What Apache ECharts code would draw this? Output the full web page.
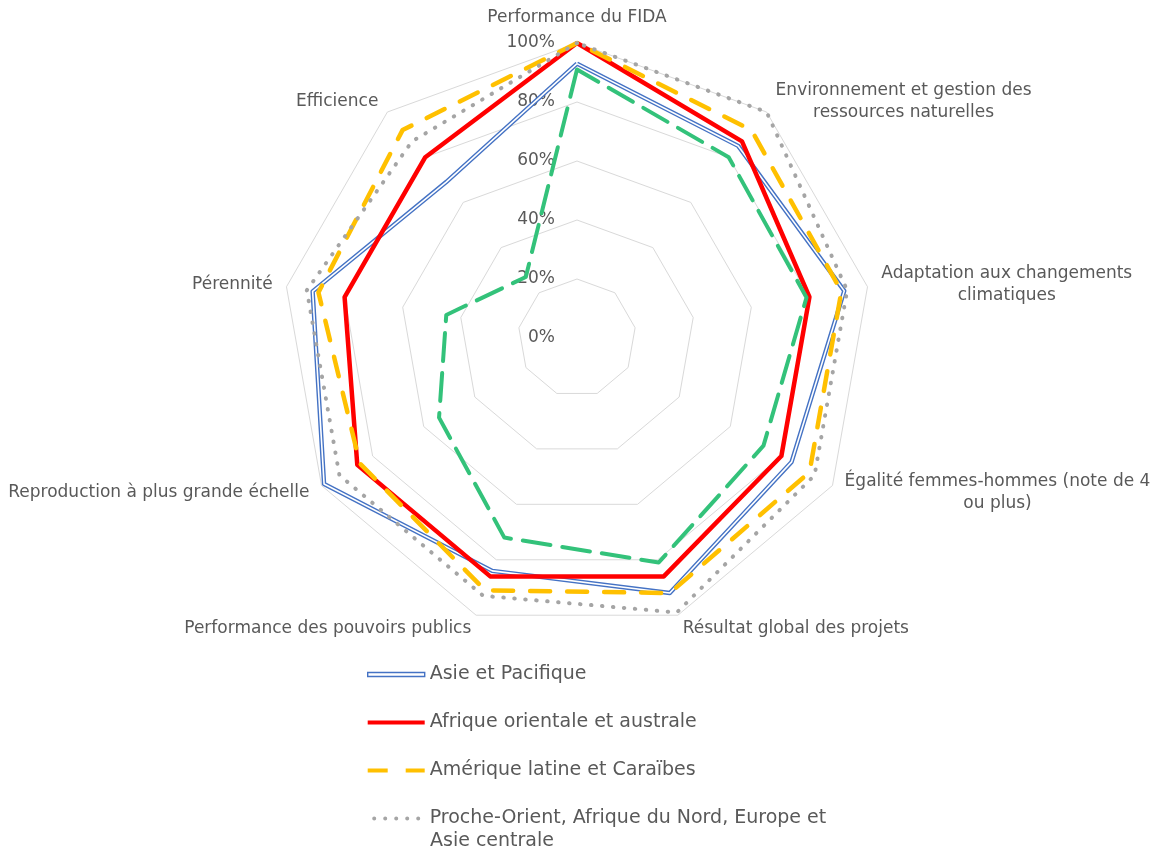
<!DOCTYPE html>
<html>
<head>
<meta charset="utf-8">
<script src="https://cdn.jsdelivr.net/npm/echarts@6/dist/echarts.min.js"></script>
<style>
  html, body { margin: 0; padding: 0; background: #ffffff; }
  #chart { width: 1162px; height: 849px; }
</style>
</head>
<body>
<div id="chart"></div>
<script>
// Evaluation criteria (radar spokes), clockwise from the top
const criteria = [
  'Performance du FIDA',
  'Environnement et gestion des\nressources naturelles',
  'Adaptation aux changements\nclimatiques',
  'Égalité femmes-hommes (note de 4\nou plus)',
  'Résultat global des projets',
  'Performance des pouvoirs publics',
  'Reproduction à plus grande échelle',
  'Pérennité',
  'Efficience'
];

// Share of projects rated satisfactory, in percent
const asiePacifique     = [93, 85, 92, 84, 92, 84, 99, 91, 69];
const afriqueOrientale  = [100, 87, 80, 80, 86, 86, 86, 80, 80];
const ameriqueLatine    = [100, 92, 91, 91, 92, 91, 85, 89, 92];
const procheOrient      = [100, 100, 93, 93, 99, 93, 93, 93, 87];
const afriqueOuest      = [91, 80, 79, 73, 81, 72, 54, 45, 27];

// Radial scale
const scaleMax = 100;
const ringCount = 5;
const tickSuffix = '%';

const legendNames = [
  'Asie et Pacifique',
  'Afrique orientale et australe',
  'Amérique latine et Caraïbes',
  'Proche-Orient, Afrique du Nord, Europe et'
];
const legendContinuation = 'Asie centrale';

const FONT = 'DejaVu Sans';
const TEXT = '#595959';

// ECharts lays radar indicators out counter-clockwise; keep the first one
// on top and reverse the rest so the criteria run clockwise.
function clockwise(arr) {
  return [arr[0]].concat(arr.slice(1).reverse());
}

const chart = echarts.init(document.getElementById('chart'), null, { renderer: 'canvas' });

const indicators = clockwise(criteria).map((name, i) => {
  const ind = { name: name, min: 0, max: scaleMax };
  if (i === 0) {
    ind.axisLabel = {
      show: true,
      formatter: '{value}' + tickSuffix,
      color: TEXT,
      fontSize: 17,
      fontFamily: FONT,
      margin: 22,
      padding: [10, 0, 0, 0]
    };
  }
  return ind;
});

function radarSeries(seriesName, values, lineStyle, z) {
  return {
    type: 'radar',
    name: seriesName,
    symbol: 'none',
    z: z,
    silent: true,
    itemStyle: { color: lineStyle.color },
    lineStyle: lineStyle,
    data: [{ name: seriesName, value: clockwise(values) }]
  };
}

const option = {
  backgroundColor: '#ffffff',
  animation: false,
  radar: {
    center: [577, 338],
    radius: 295,
    startAngle: 90,
    shape: 'polygon',
    splitNumber: ringCount,
    indicator: indicators,
    nameGap: 14,
    axisName: {
      color: TEXT,
      fontSize: 17,
      fontFamily: FONT,
      formatter: function (name) {
        return name.split('\n').map(l => '{c|' + l + '}').join('\n');
      },
      rich: {
        c: { align: 'center', color: TEXT, fontSize: 17, fontFamily: FONT, lineHeight: 22 }
      }
    },
    axisLine: { show: false },
    axisTick: { show: false },
    axisLabel: { show: false },
    splitLine: { lineStyle: { color: '#D9D9D9', width: 1 } },
    splitArea: { show: false }
  },
  legend: {
    orient: 'vertical',
    left: 367,
    top: 663,
    padding: 0,
    itemWidth: 57,
    itemHeight: 4,
    itemGap: 25,
    selectedMode: false,
    textStyle: { color: TEXT, fontSize: 19, fontFamily: FONT, lineHeight: 23 },
    data: [
      { name: legendNames[0], icon: 'rect',
        itemStyle: { color: '#ffffff', borderColor: '#4472C4', borderWidth: 1.4 } },
      { name: legendNames[1], icon: 'rect',
        itemStyle: { color: '#FF0000', borderWidth: 0 } },
      { name: legendNames[2],
        icon: 'path://M0,0H20V4H0Z M38,0H57V4H38Z',
        itemStyle: { color: '#FFC000', borderWidth: 0 } },
      { name: legendNames[3],
        icon: 'path://M0,2a2,2 0 1,0 4,0a2,2 0 1,0 -4,0z M11,2a2,2 0 1,0 4,0a2,2 0 1,0 -4,0z M22,2a2,2 0 1,0 4,0a2,2 0 1,0 -4,0z M33,2a2,2 0 1,0 4,0a2,2 0 1,0 -4,0z M44,2a2,2 0 1,0 4,0a2,2 0 1,0 -4,0z',
        itemStyle: { color: '#A5A5A5', borderWidth: 0 } }
    ]
  },
  graphic: [
    {
      type: 'text',
      left: 430,
      top: 832,
      silent: true,
      style: { text: legendContinuation, fill: TEXT, font: '19px "' + FONT + '"' }
    }
  ],
  series: [
    radarSeries(legendNames[0], asiePacifique, { color: '#4472C4', width: 4.4 }, 2),
    // white core that turns the blue stroke into a double line
    {
      type: 'radar', symbol: 'none', z: 2, silent: true,
      itemStyle: { color: '#ffffff' },
      lineStyle: { color: '#ffffff', width: 1.6 },
      data: [{ name: 'Asie et Pacifique (trait interne)', value: clockwise(asiePacifique) }]
    },
    radarSeries(legendNames[1], afriqueOrientale, { color: '#FF0000', width: 4.5 }, 3),
    radarSeries(legendNames[2], ameriqueLatine, { color: '#FFC000', width: 4.5, type: [20, 17], cap: 'round' }, 4),
    radarSeries(legendNames[3], procheOrient, { color: '#A5A5A5', width: 4, type: [0.5, 10.5], cap: 'round' }, 5),
    radarSeries("Afrique de l'Ouest et du Centre", afriqueOuest, { color: '#33C27A', width: 4, type: [28, 12], cap: 'round' }, 6)
  ]
};

chart.setOption(option);
</script>
</body>
</html>
